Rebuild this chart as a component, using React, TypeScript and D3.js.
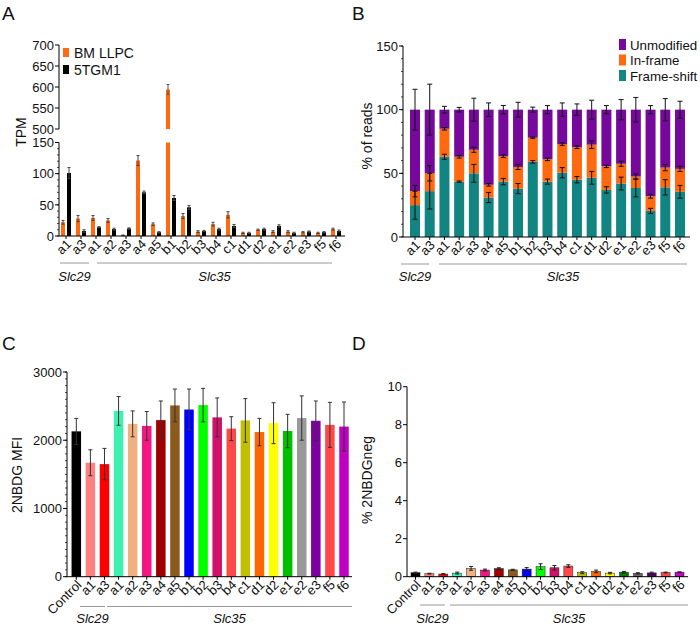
import React from "react";
import * as d3 from "d3";

// ---------- Data ----------
const genes = ["a1","a3","a1","a2","a3","a4","a5","b1","b2","b3","b4","c1","d1","d2","e1","e2","e3","f5","f6"];

// Panel A (TPM)
const llpc    = [22, 28, 29, 25, 1, 121, 19, 594, 32, 7, 19, 34, 5, 10, 7, 7, 6, 5, 11];
const llpcErr = [3, 5, 4, 3, 0.5, 8, 2, 12, 4, 1.5, 3, 5, 1, 1, 1.5, 1.5, 1, 1, 1.5];
const tgm     = [101, 8, 14, 11, 12, 70, 6, 61, 46, 8, 11, 16, 5, 11, 16, 5, 7, 6, 8];
const tgmErr  = [9, 2, 1, 1.5, 1, 2, 1, 4, 3, 1, 1.5, 2.5, 1, 1.5, 2, 1, 1, 1, 1.5];
const ticksALow = [0, 50, 100, 150];
const ticksAHigh = [500, 550, 600, 650, 700];

// Panel B (% of reads)
const frameShift    = [25, 36, 63, 43.5, 50, 31, 43.5, 38, 59, 43.5, 50.5, 45, 46.5, 37, 42, 38.5, 20.5, 39, 35.5];
const frameShiftErr = [11, 14, 2, 0.5, 7, 4, 2.5, 4, 1, 2, 4, 2.5, 5, 2.5, 5, 7, 2, 6, 5];
const inFrame       = [11, 14, 22, 19.5, 18.5, 10, 20, 17, 19, 17.5, 22.5, 25.5, 26, 18.5, 15.5, 9, 11.5, 15.5, 18];
const inFrameErr    = [4.5, 6, 1, 1, 2, 1, 1, 2, 0.5, 1, 1, 1, 3, 1, 2, 2, 1.5, 2.5, 2];
const unmodErr      = [16, 20, 2.6, 1.8, 9, 5.3, 3.3, 5.8, 2, 3.2, 5.3, 4.5, 7.4, 3.2, 7.9, 9.6, 3.2, 8.7, 6.6];
const ticksB = [0, 50, 100, 150];
const legendB = ["Unmodified", "In-frame", "Frame-shift"];

// Panel C (2NBDG MFI)
const catsCD = ["Control", ...genes];
const mfi    = [2130, 1670, 1650, 2430, 2240, 2210, 2295, 2510, 2450, 2515, 2335, 2170, 2290, 2120, 2250, 2135, 2325, 2285, 2225, 2200];
const mfiErr = [190, 190, 230, 210, 190, 210, 280, 240, 300, 245, 285, 175, 320, 200, 300, 245, 325, 290, 330, 360];
const colorsC = ["#000000","#ff8080","#ff0000","#40f0b0","#f0b080","#f5177f","#a00000","#8c5a1e","#0000ff","#00ff00","#d0106a","#ff4848","#c0c000","#ff6600","#ffff00","#00c000","#999999","#7f00a0","#ff4848","#c000c0"];
const ticksC = [0, 1000, 2000, 3000];

// Panel D (% 2NBDGneg)
const pctNeg    = [0.21, 0.16, 0.14, 0.19, 0.44, 0.35, 0.43, 0.36, 0.40, 0.53, 0.47, 0.56, 0.21, 0.28, 0.19, 0.24, 0.18, 0.20, 0.22, 0.24];
const pctNegErr = [0.03, 0.02, 0.02, 0.05, 0.1, 0.05, 0.04, 0.03, 0.08, 0.15, 0.12, 0.07, 0.05, 0.07, 0.04, 0.04, 0.03, 0.04, 0.02, 0.02];
const colorsD = ["#000000","#ff8080","#ff0000","#40f0b0","#f0b080","#f5177f","#a00000","#8c5a1e","#0000ff","#00ff00","#d0106a","#ff4848","#c0c000","#ff6600","#ffff00","#007a00","#666666","#500060","#ff4848","#c000c0"];
const ticksD = [0, 2, 4, 6, 8, 10];

const ORANGE = "#ff6a10";
const PURPLE = "#76099b";
const TEAL = "#128481";
const FONT = "'Liberation Sans', Arial, Helvetica, sans-serif";

// ---------- helpers ----------
function ErrBar({ x, y1, y2, cap = 4, color = "#222", w = 1 }: any) {
  return (
    <g stroke={color} strokeWidth={w} fill="none">
      <line x1={x} x2={x} y1={y1} y2={y2} />
      <line x1={x - cap / 2} x2={x + cap / 2} y1={y1} y2={y1} />
      <line x1={x - cap / 2} x2={x + cap / 2} y1={y2} y2={y2} />
    </g>
  );
}

function YAxis({ x, scale, ticks, minor = [], fs = 13 }: any) {
  const [a, b] = scale.range();
  return (
    <g>
      <line x1={x} x2={x} y1={a} y2={b} stroke="#000" strokeWidth={1} />
      {minor.map((t: number, i: number) => (
        <line key={"m" + i} x1={x - 2} x2={x} y1={scale(t)} y2={scale(t)} stroke="#000" strokeWidth={0.7} />
      ))}
      {ticks.map((t: number) => (
        <g key={t}>
          <line x1={x - 4} x2={x} y1={scale(t)} y2={scale(t)} stroke="#000" strokeWidth={1} />
          <text x={x - 5} y={scale(t)} dy="0.36em" textAnchor="end" fontSize={fs} fill="#111">{t}</text>
        </g>
      ))}
    </g>
  );
}

function XAxis({ x0, x1, y, xs, labels, fs = 13, dx = 6, dy = 9 }: any) {
  return (
    <g>
      <line x1={x0} x2={x1} y1={y} y2={y} stroke="#000" strokeWidth={1} />
      {labels.map((l: string, i: number) => (
        <g key={i}>
          <line x1={xs(i)} x2={xs(i)} y1={y} y2={y + 3} stroke="#000" strokeWidth={1} />
          <text transform={`translate(${xs(i) + dx},${y + dy}) rotate(-45)`} textAnchor="end" fontSize={fs} fill="#111">{l}</text>
        </g>
      ))}
    </g>
  );
}

function Groups({ lines, ly, ty }: any) {
  return (
    <g>
      {lines.map((g: any, i: number) => (
        <g key={i}>
          <line x1={g.x0} x2={g.x1} y1={ly} y2={ly} stroke="#999" strokeWidth={1} />
          <text x={(g.x0 + g.x1) / 2} y={ty} textAnchor="middle" fontStyle="italic" fontSize={13} fill="#111">{g.name}</text>
        </g>
      ))}
    </g>
  );
}

// ---------- Panels ----------
function PanelA() {
  const ax = 59;
  const yLow = d3.scaleLinear().domain([0, 150]).range([236, 142.5]);
  const yHigh = d3.scaleLinear().domain([500, 700]).range([129, 45]);
  const idx = genes.map((_, i) => i);
  const xs = d3.scalePoint<number>().domain(idx).range([66, 336]);
  const xf = (i: number) => xs(i) as number;
  const bw = 4;
  const minor = d3.range(0, 151, 10);
  const barLow = (v: number) => Math.min(v, 150);
  return (
    <g>
      <text x={2} y={20} fontSize={19} fill="#111">A</text>
      <YAxis x={ax} scale={yLow} ticks={ticksALow} minor={minor} />
      <YAxis x={ax} scale={yHigh} ticks={ticksAHigh} />
      <text transform={`translate(26,132) rotate(-90)`} textAnchor="middle" fontSize={14} fill="#111">TPM</text>
      {idx.map((i) => {
        const xo = xf(i) - 3;
        const xb = xf(i) + 3;
        const vo = llpc[i];
        return (
          <g key={i}>
            <rect x={xo - bw / 2} width={bw} y={yLow(barLow(vo))} height={236 - yLow(barLow(vo))} fill={ORANGE} />
            {vo > 150 ? (
              <g>
                <rect x={xo - bw / 2} width={bw} y={yHigh(vo)} height={129 - yHigh(vo)} fill={ORANGE} />
                <ErrBar x={xo} y1={yHigh(vo - llpcErr[i])} y2={yHigh(vo + llpcErr[i])} cap={3} color="#555" />
              </g>
            ) : (
              <ErrBar x={xo} y1={yLow(vo - llpcErr[i])} y2={yLow(vo + llpcErr[i])} cap={3} color="#444" />
            )}
            <rect x={xb - bw / 2} width={bw} y={yLow(tgm[i])} height={236 - yLow(tgm[i])} fill="#000" />
            <ErrBar x={xb} y1={yLow(tgm[i] - tgmErr[i])} y2={yLow(tgm[i] + tgmErr[i])} cap={3} color="#444" />
          </g>
        );
      })}
      <XAxis x0={ax} x1={345} y={236} xs={xf} labels={genes} />
      <Groups ly={263} ty={281} lines={[{ x0: 60, x1: 89, name: "Slc29" }, { x0: 97, x1: 332, name: "Slc35" }]} />
      <rect x={63} y={48} width={6} height={9} fill={ORANGE} />
      <rect x={63} y={65} width={6} height={9} fill="#000" />
      <text x={74} y={58} fontSize={14} fill="#111">BM LLPC</text>
      <text x={74} y={75} fontSize={14} fill="#111">5TGM1</text>
    </g>
  );
}

function PanelB() {
  const ax = 403;
  const y = d3.scaleLinear().domain([0, 150]).range([237, 46]);
  const idx = genes.map((_, i) => i);
  const xs = d3.scalePoint<number>().domain(idx).range([415, 680]);
  const xf = (i: number) => xs(i) as number;
  const bw = 10;
  const stack = d3.stack<number>().keys(["fs", "inf", "un"]).value((i, k) =>
    k === "fs" ? frameShift[i] : k === "inf" ? inFrame[i] : 100 - frameShift[i] - inFrame[i]
  )(idx);
  const cols = [TEAL, ORANGE, PURPLE];
  const errs = [frameShiftErr, inFrameErr, unmodErr];
  return (
    <g>
      <text x={352} y={20} fontSize={19} fill="#111">B</text>
      <YAxis x={ax} scale={y} ticks={ticksB} minor={d3.range(0, 151, 10)} />
      <text transform={`translate(372,136) rotate(-90)`} textAnchor="middle" fontSize={14} fill="#111">% of reads</text>
      {stack.map((s, k) => (
        <g key={k}>
          {s.map((d, i) => (
            <rect key={i} x={xf(i) - bw / 2} width={bw} y={y(d[1])} height={y(d[0]) - y(d[1])} fill={cols[k]} />
          ))}
        </g>
      ))}
      {stack.map((s, k) => (
        <g key={"e" + k}>
          {s.map((d, i) => (
            <ErrBar key={i} x={xf(i)} y1={y(d[1] - errs[k][i])} y2={y(d[1] + errs[k][i])} cap={5} color="#111" />
          ))}
        </g>
      ))}
      <XAxis x0={ax} x1={690} y={237} xs={xf} labels={genes} />
      <Groups ly={264} ty={281} lines={[{ x0: 401, x1: 429, name: "Slc29" }, { x0: 439, x1: 687, name: "Slc35" }]} />
      {legendB.map((l, i) => (
        <g key={l}>
          <rect x={619} y={39 + i * 15.5} width={7} height={11} fill={[PURPLE, ORANGE, TEAL][i]} />
          <text x={630} y={49.5 + i * 15.5} fontSize={13.3} fill="#111">{l}</text>
        </g>
      ))}
    </g>
  );
}

function PanelC() {
  const ax = 67;
  const y = d3.scaleLinear().domain([0, 3000]).range([576.7, 372]);
  const idx = catsCD.map((_, i) => i);
  const xs = d3.scalePoint<number>().domain(idx).range([76.3, 344]);
  const xf = (i: number) => xs(i) as number;
  const bw = 9.5;
  return (
    <g>
      <text x={2} y={350} fontSize={19} fill="#111">C</text>
      <YAxis x={ax} scale={y} ticks={ticksC} minor={d3.range(0, 3001, 100)} />
      <text transform={`translate(22,475) rotate(-90)`} textAnchor="middle" fontSize={14} fill="#111">2NBDG MFI</text>
      {idx.map((i) => (
        <g key={i}>
          <rect x={xf(i) - bw / 2} width={bw} y={y(mfi[i])} height={y(0) - y(mfi[i])} fill={colorsC[i]} />
          <ErrBar x={xf(i)} y1={y(mfi[i] - mfiErr[i])} y2={y(mfi[i] + mfiErr[i])} cap={4} color="#333" />
        </g>
      ))}
      <XAxis x0={ax} x1={352} y={576.7} xs={xf} labels={catsCD} />
      <Groups ly={606.5} ty={622.5} lines={[{ x0: 80, x1: 105, name: "Slc29" }, { x0: 107, x1: 352, name: "Slc35" }]} />
    </g>
  );
}

function PanelD() {
  const ax = 407;
  const y = d3.scaleLinear().domain([0, 10]).range([576.7, 386.7]);
  const idx = catsCD.map((_, i) => i);
  const xs = d3.scalePoint<number>().domain(idx).range([415.5, 679.5]);
  const xf = (i: number) => xs(i) as number;
  const bw = 9;
  return (
    <g>
      <text x={352} y={350} fontSize={19} fill="#111">D</text>
      <YAxis x={ax} scale={y} ticks={ticksD} />
      <text transform={`translate(372,480) rotate(-90)`} textAnchor="middle" fontSize={14} fill="#111">% 2NBDGneg</text>
      {idx.map((i) => (
        <g key={i}>
          <rect x={xf(i) - bw / 2} width={bw} y={y(pctNeg[i])} height={y(0) - y(pctNeg[i])} fill={colorsD[i]} stroke="#222" strokeWidth={0.5} />
          <ErrBar x={xf(i)} y1={y(pctNeg[i] - pctNegErr[i])} y2={y(pctNeg[i] + pctNegErr[i])} cap={4} color="#222" />
        </g>
      ))}
      <XAxis x0={ax} x1={688} y={576.7} xs={xf} labels={catsCD} />
      <Groups ly={605} ty={622.5} lines={[{ x0: 420, x1: 445, name: "Slc29" }, { x0: 450, x1: 688, name: "Slc35" }]} />
    </g>
  );
}

export default function App() {
  return (
    <svg width={700} height={627} style={{ position: "absolute", left: 0, top: 0, background: "#fff" }} fontFamily={FONT}>
      <rect width={700} height={627} fill="#fff" />
      <PanelA />
      <PanelB />
      <PanelC />
      <PanelD />
    </svg>
  );
}
